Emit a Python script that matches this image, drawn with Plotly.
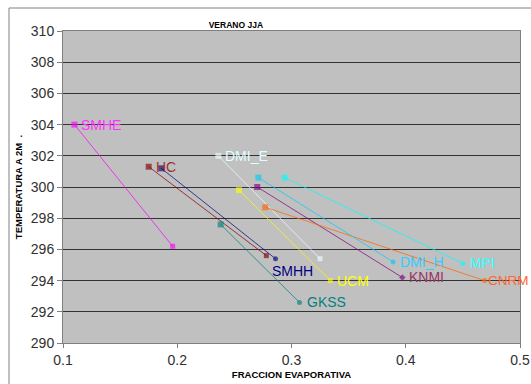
import plotly.graph_objects as go

# Data: each model has a start point (x0, y0) and end point (x1, y1)
models = ["SMHE", "HC", "SMHH", "GKSS", "DMI_E", "UCM", "KNMI", "CNRM", "DMI_H", "MPI"]
x_start = [0.110, 0.175, 0.186, 0.238, 0.236, 0.254, 0.270, 0.277, 0.271, 0.294]
y_start = [304.0, 301.3, 301.2, 297.6, 302.0, 299.8, 300.0, 298.7, 300.6, 300.6]
x_end = [0.196, 0.278, 0.286, 0.307, 0.325, 0.334, 0.397, 0.469, 0.389, 0.450]
y_end = [296.2, 295.6, 295.4, 292.6, 295.4, 294.0, 294.2, 294.0, 295.2, 295.1]
label_at = ["start", "start", "end", "end", "start", "end", "end", "end", "end", "end"]

line_colors = ["#FF00FF", "#800000", "#000080", "#008080", "#F0FFFF",
               "#FFFF00", "#800080", "#FF6600", "#00CCFF", "#00FFFF"]
label_colors = ["#FF33FF", "#993333", "#000080", "#008080", "#E0FFFF",
                "#FFFF00", "#993366", "#FF6633", "#33CCFF", "#33FFFF"]
end_symbols = ["square", "square", "circle", "circle", "square",
               "square", "diamond", "circle", "circle", "circle"]

x_ticks = [0.1, 0.2, 0.3, 0.4, 0.5]
y_ticks = [290, 292, 294, 296, 298, 300, 302, 304, 306, 308, 310]

fig = go.Figure()
for i, m in enumerate(models):
    fig.add_trace(go.Scatter(
        x=[x_start[i], x_end[i]], y=[y_start[i], y_end[i]],
        mode="lines+markers",
        line=dict(color=line_colors[i], width=0.8),
        opacity=0.9,
        marker=dict(color=line_colors[i], size=[6, 5],
                    symbol=["square", end_symbols[i]], line=dict(width=0)),
        name=m, showlegend=False, hoverinfo="skip", cliponaxis=False,
    ))
    if label_at[i] == "start":
        lx, ly = x_start[i], y_start[i]
    else:
        lx, ly = x_end[i], y_end[i]
    if m == "SMHH":
        xs, ys = -5, -12
    elif m == "CNRM":
        xs, ys = 2, 0
    else:
        xs, ys = 6, 0
    fig.add_annotation(x=lx, y=ly, text=m, showarrow=False,
                       xanchor="left", yanchor="middle", xshift=xs, yshift=ys,
                       borderpad=0,
                       font=dict(family="Liberation Sans, Arial",
                                 size=13.5 if m == "CNRM" else 14,
                                 color=label_colors[i]))

W, H = 531, 384
L, R, T, B = 63, 11, 31, 41
pw, ph = W - L - R, H - T - B


def px(x):
    return (x - L) / pw


def py(y):
    return (H - B - y) / ph


# outer chart border
fig.add_shape(type="rect", xref="paper", yref="paper",
              x0=px(9), x1=px(545), y0=py(8), y1=py(400),
              line=dict(color="#808080", width=1), fillcolor="rgba(0,0,0,0)",
              layer="below")

fig.update_layout(
    width=W, height=H,
    margin=dict(l=L, r=R, t=T, b=B, autoexpand=False),
    paper_bgcolor="white",
    plot_bgcolor="#C0C0C0",
    showlegend=False,
    font=dict(family="Liberation Sans, Arial", color="#000000"),
    title=dict(text="<b>VERANO JJA</b>", x=px(266), y=1 - 25 / H,
               xanchor="center", yanchor="middle",
               font=dict(size=8.5, color="#000000")),
)
fig.update_xaxes(
    range=[0.1, 0.5], tickvals=x_ticks, ticktext=[str(v) for v in x_ticks],
    showgrid=False, zeroline=False, automargin=False,
    showline=True, linecolor="#808080", linewidth=1, mirror=True,
    ticks="outside", ticklen=4, tickcolor="#808080",
    tickfont=dict(size=14, color="#303030"),
    title=dict(text="<b>FRACCION EVAPORATIVA</b>", font=dict(size=9.5), standoff=4),
)
fig.update_yaxes(
    range=[290, 310], tickvals=y_ticks, ticktext=[str(v) for v in y_ticks],
    showgrid=True, gridcolor="#333333", gridwidth=1, zeroline=False, automargin=False,
    showline=True, linecolor="#808080", linewidth=1, mirror=True,
    ticks="outside", ticklen=5, tickcolor="#808080",
    tickfont=dict(size=14, color="#303030"),
    title=dict(text="<b>TEMPERATURA A 2M  .</b>", font=dict(size=9.5), standoff=6),
)

fig.write_html("out.html")
